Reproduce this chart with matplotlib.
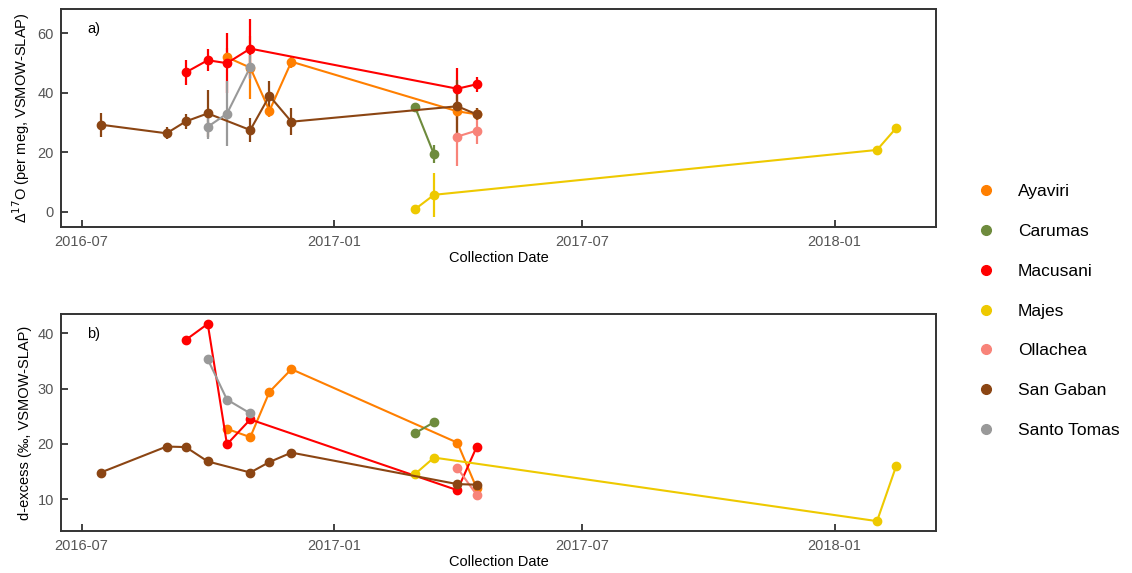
import numpy as np
import pandas as pd
import matplotlib
matplotlib.use("Agg")
import matplotlib.pyplot as plt
import matplotlib.dates as mdates

plt.rcParams['font.family'] = ['Liberation Sans', 'DejaVu Sans']

sites = ["Ayaviri", "Carumas", "Macusani", "Majes", "Ollachea", "San Gaban", "Santo Tomas"]
colors = {
    "Ayaviri": "#FF7F00",
    "Carumas": "#6E8B3D",
    "Macusani": "#FF0000",
    "Majes": "#EEC900",
    "Ollachea": "#F88379",
    "San Gaban": "#8B4513",
    "Santo Tomas": "#999999",
}

# collection dates per site
dates = {
    "Ayaviri": ["2016-10-15", "2016-11-01", "2016-11-15", "2016-12-01", "2017-04-01", "2017-04-15"],
    "Carumas": ["2017-03-01", "2017-03-15"],
    "Macusani": ["2016-09-15", "2016-10-01", "2016-10-15", "2016-11-01", "2017-04-01", "2017-04-15"],
    "Majes": ["2017-03-01", "2017-03-15", "2018-02-01", "2018-02-15"],
    "Ollachea": ["2017-04-01", "2017-04-15"],
    "San Gaban": ["2016-07-15", "2016-09-01", "2016-09-15", "2016-10-01", "2016-11-01",
                  "2016-11-15", "2016-12-01", "2017-04-01", "2017-04-15"],
    "Santo Tomas": ["2016-10-01", "2016-10-15", "2016-11-01"],
}

# D17O (per meg) and 1-sigma uncertainty
d17o = {
    "Ayaviri": [52.0, 48.5, 34.0, 50.5, 33.8, 32.8],
    "Carumas": [35.4, 19.3],
    "Macusani": [46.9, 51.0, 50.0, 54.9, 41.4, 42.9],
    "Majes": [0.8, 5.7, 20.8, 28.2],
    "Ollachea": [25.3, 27.3],
    "San Gaban": [29.3, 26.4, 30.4, 33.1, 27.5, 39.0, 30.3, 35.5, 32.8],
    "Santo Tomas": [28.6, 33.0, 48.7],
}
d17o_err = {
    "Ayaviri": [3.0, 10.5, 2.0, 2.0, 3.0, 2.0],
    "Carumas": [1.0, 3.0],
    "Macusani": [4.3, 3.7, 10.0, 10.0, 7.0, 2.5],
    "Majes": [1.0, 7.5, 1.0, 1.0],
    "Ollachea": [10.0, 4.5],
    "San Gaban": [4.0, 2.0, 2.5, 8.0, 4.0, 5.0, 4.5, 9.0, 2.0],
    "Santo Tomas": [4.0, 11.0, 4.0],
}

# d-excess (permil)
dxs = {
    "Ayaviri": [22.7, 21.2, 29.4, 33.5, 20.2, 12.0],
    "Carumas": [21.9, 23.9],
    "Macusani": [38.8, 41.7, 19.9, 24.4, 11.6, 19.4],
    "Majes": [14.5, 17.5, 6.0, 16.0],
    "Ollachea": [15.6, 10.8],
    "San Gaban": [14.8, 19.5, 19.4, 16.8, 14.8, 16.7, 18.4, 12.7, 12.6],
    "Santo Tomas": [35.3, 28.0, 25.5],
}

fig = plt.figure(figsize=(11.32, 5.73), dpi=100)
ax_a = fig.add_axes([61 / 1132, 1 - 227 / 573, 875 / 1132, 218 / 573])
ax_b = fig.add_axes([61 / 1132, 1 - 531 / 573, 875 / 1132, 217 / 573])

handles = []
for site in sites:
    t = pd.to_datetime(dates[site])
    c = colors[site]
    ax_a.errorbar(t, d17o[site], yerr=d17o_err[site], color=c, marker="o",
                  markersize=6, linewidth=1.5, elinewidth=1.6, capsize=0)
    ax_b.plot(t, dxs[site], color=c, marker="o", markersize=6, linewidth=1.5)
    handles.append(plt.Line2D([], [], color=c, marker="o", linestyle="none",
                              markersize=7, label=site))

for ax, lab in [(ax_a, "a)"), (ax_b, "b)")]:
    ax.xaxis.set_major_locator(mdates.MonthLocator(bymonth=[1, 7]))
    ax.xaxis.set_major_formatter(mdates.DateFormatter("%Y-%m"))
    ax.tick_params(direction="in", length=5, width=1.2, labelsize=10.5,
                   labelcolor="#555555", color="#222222", pad=5)
    ax.tick_params(axis="x", pad=6)
    for sp in ax.spines.values():
        sp.set_color("#333333")
        sp.set_linewidth(1.4)
    ax.set_xlabel("Collection Date", fontsize=10.5, labelpad=1)
    ax.text(0.03, 0.94, lab, transform=ax.transAxes, fontsize=10.5,
            va="top", ha="left")

ax_a.set_yticks([0, 20, 40, 60])
ax_b.set_yticks([10, 20, 30, 40])
ax_a.set_ylabel("Δ$^{17}$O (per meg, VSMOW-SLAP)", fontsize=10.5, labelpad=4)
ax_b.set_ylabel("d-excess (‰, VSMOW-SLAP)", fontsize=10.5, labelpad=4)

fig.legend(handles=handles, loc="center left", bbox_to_anchor=(961.6 / 1132, 1 - 311 / 573),
           frameon=False, fontsize=12.5, labelspacing=1.42, handletextpad=1.34,
           handlelength=1.0)

fig.savefig("out.png", dpi=100)
